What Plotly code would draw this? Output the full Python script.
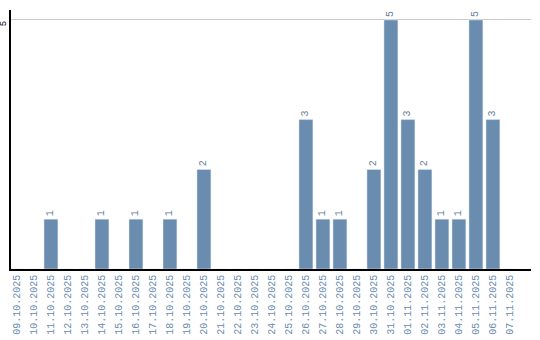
import plotly.graph_objects as go

dates = ["09.10.2025","10.10.2025","11.10.2025","12.10.2025","13.10.2025","14.10.2025",
         "15.10.2025","16.10.2025","17.10.2025","18.10.2025","19.10.2025","20.10.2025",
         "21.10.2025","22.10.2025","23.10.2025","24.10.2025","25.10.2025","26.10.2025",
         "27.10.2025","28.10.2025","29.10.2025","30.10.2025","31.10.2025","01.11.2025",
         "02.11.2025","03.11.2025","04.11.2025","05.11.2025","06.11.2025","07.11.2025"]
counts = [0,0,1,0,0,1,0,1,0,1,0,2,0,0,0,0,0,3,1,1,0,2,5,3,2,1,1,5,3,0]
labels = [str(c) if c > 0 else "" for c in counts]

bar_color = "#6a8caf"
text_color = "#6a7f99"
font_fam = "Liberation Mono"

fig = go.Figure(go.Bar(
    x=dates, y=counts, text=labels, textposition="outside", textangle=-90,
    textfont=dict(family=font_fam, size=10, color=text_color),
    marker=dict(color=bar_color), cliponaxis=False,
))
fig.update_layout(
    width=540, height=340, margin=dict(l=11, r=9, t=10, b=71),
    paper_bgcolor="white", plot_bgcolor="white", bargap=0.18, showlegend=False,
    xaxis=dict(type="category", range=[-0.35, 30.24], tickangle=-90, showline=True,
               linecolor="black", linewidth=1.5, ticks="", automargin=False,
               tickfont=dict(family=font_fam, size=10, color="#6a8caf"),
               showgrid=False),
    yaxis=dict(range=[0, 5.2], tickvals=[5], tickangle=-90, showline=True, linecolor="black",
               linewidth=1.5, gridcolor="#cccccc", gridwidth=1, zeroline=False, ticks="",
               automargin=False, ticklabelshift=5, ticklabelstandoff=0,
               tickfont=dict(family=font_fam, size=9, color="black")),
)
fig.write_html("out.html")
